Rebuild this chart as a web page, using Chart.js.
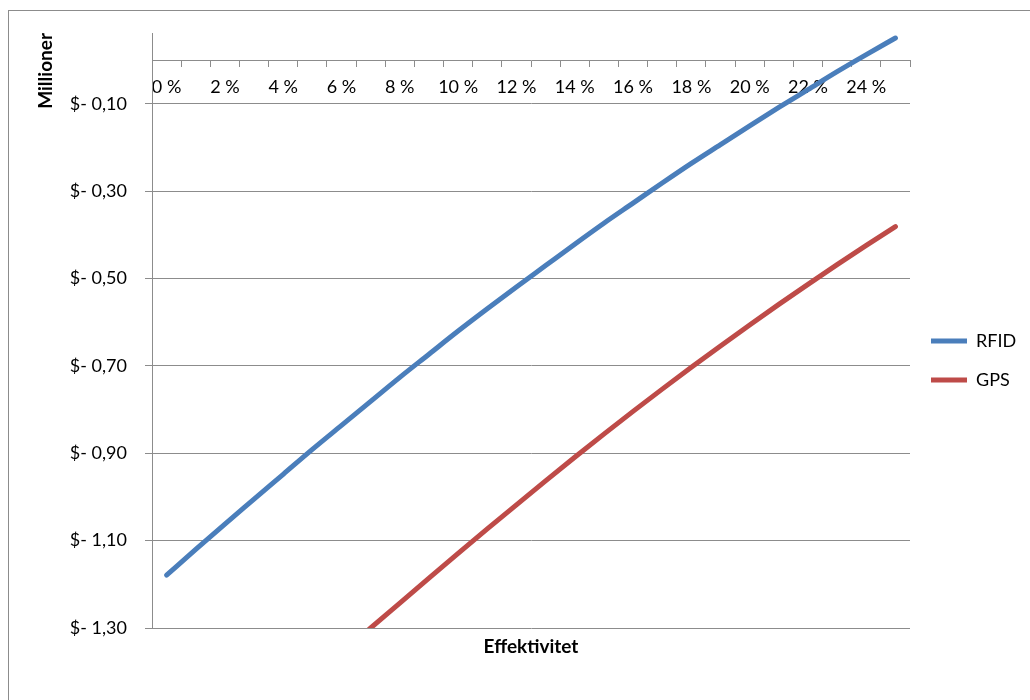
<!DOCTYPE html>
<html>
<head>
<meta charset="utf-8">
<script src="https://cdn.jsdelivr.net/npm/chart.js@4.4.1/dist/chart.umd.min.js"></script>
<style>
  html, body { margin: 0; padding: 0; background: #fff; }
  #frame { position: absolute; left: 8px; top: 10px; width: 1040px; height: 720px;
           border-left: 1px solid #8c8c8c; border-top: 1px solid #8c8c8c; }
  #wrap { position: absolute; left: 0; top: 0; width: 1030px; height: 700px; }
</style>
</head>
<body>
<div id="frame"></div>
<div id="wrap"><canvas id="c" width="1030" height="700"></canvas></div>
<script>
// Effektivitet (%) kategorier
const categories = ['0 %','1 %','2 %','3 %','4 %','5 %','6 %','7 %','8 %','9 %','10 %','11 %','12 %',
  '13 %','14 %','15 %','16 %','17 %','18 %','19 %','20 %','21 %','22 %','23 %','24 %','25 %'];

// Nåverdi i millioner dollar
const rfid = [-1.179, -1.120, -1.062, -1.005, -0.948, -0.891, -0.836, -0.781, -0.726, -0.673,
  -0.620, -0.569, -0.519, -0.470, -0.421, -0.373, -0.327, -0.281, -0.236, -0.193,
  -0.150, -0.108, -0.067, -0.026, 0.013, 0.051];

const gps = [null, null, null, null, null, null, -1.358, -1.300, -1.243, -1.186,
  -1.129, -1.073, -1.018, -0.963, -0.909, -0.856, -0.804, -0.753, -0.703, -0.654,
  -0.606, -0.559, -0.513, -0.468, -0.424, -0.381];

// Verdiakse
const yTickValues = [-1.3, -1.1, -0.9, -0.7, -0.5, -0.3, -0.1];
const yMin = -1.3;
const yMax = 0.0625;

const FONT = 'Lato, "Open Sans", sans-serif';
const GRID = '#8c8c8c';

function build() {
  const ctx = document.getElementById('c').getContext('2d');
  const chart = new Chart(ctx, {
    type: 'line',
    data: {
      labels: categories,
      datasets: [
        { label: 'RFID', data: rfid, borderColor: '#4A7EBB', backgroundColor: '#4A7EBB',
          borderWidth: 5, pointRadius: 0, pointHoverRadius: 0, borderCapStyle: 'round',
          borderJoinStyle: 'round', cubicInterpolationMode: 'monotone', pointStyle: 'line', clip: 0 },
        { label: 'GPS', data: gps, borderColor: '#BE4B48', backgroundColor: '#BE4B48',
          borderWidth: 5, pointRadius: 0, pointHoverRadius: 0, borderCapStyle: 'round',
          borderJoinStyle: 'round', cubicInterpolationMode: 'monotone', pointStyle: 'line', clip: 0 }
      ]
    },
    options: {
      responsive: false,
      animation: false,
      devicePixelRatio: 1,
      layout: { padding: { left: 20, top: 33, right: 40, bottom: 12 } },
      plugins: {
        legend: {
          position: 'right',
          labels: { usePointStyle: true, pointStyleWidth: 36, padding: 21, color: '#000',
                    font: { family: FONT, size: 18 } }
        },
        title: {
          display: true, position: 'bottom', fullSize: false, text: 'Effektivitet',
          color: '#000', font: { family: FONT, size: 19, weight: 'bold' },
          padding: { top: 7, bottom: 30 }
        },
        tooltip: { enabled: false }
      },
      scales: {
        x: {
          type: 'category',
          position: { y: 0 },
          offset: true,
          grid: { offset: true, drawOnChartArea: false, drawTicks: true, tickLength: 6, color: GRID },
          border: { display: true, color: GRID, width: 1 },
          ticks: {
            autoSkip: false, maxRotation: 0, minRotation: 0, padding: 10, color: '#000',
            font: { family: FONT, size: 18 },
            callback: (v, i) => (i % 2 === 0 ? categories[i] : '')
          }
        },
        y: {
          min: yMin, max: yMax,
          afterBuildTicks: s => { s.ticks = yTickValues.map(v => ({ value: v })); },
          afterFit: s => { s.width = 132; },
          grid: { color: GRID, tickLength: 7 },
          border: { display: true, color: GRID },
          ticks: {
            padding: 18, color: '#000', font: { family: FONT, size: 18 },
            callback: v => '$- ' + Math.abs(v).toFixed(2).replace('.', ',')
          },
          title: {
            display: true, text: 'Millioner', align: 'end', color: '#000',
            font: { family: FONT, size: 19, weight: 'bold' },
            padding: { top: 14, bottom: 0 }
          }
        }
      }
    }
  });

  // plot area: left 152, top 33, right 910, bottom 628
  const ca = chart.chartArea;
  const p = chart.options.layout.padding;
  p.right += ca.right - 910;
  p.top += 33 - ca.top;
  p.bottom += ca.bottom - 628;
  chart.update('none');
}

Promise.all([
  document.fonts.load('18px Lato'),
  document.fonts.load('bold 19px Lato')
]).then(build, build);
</script>
</body>
</html>
